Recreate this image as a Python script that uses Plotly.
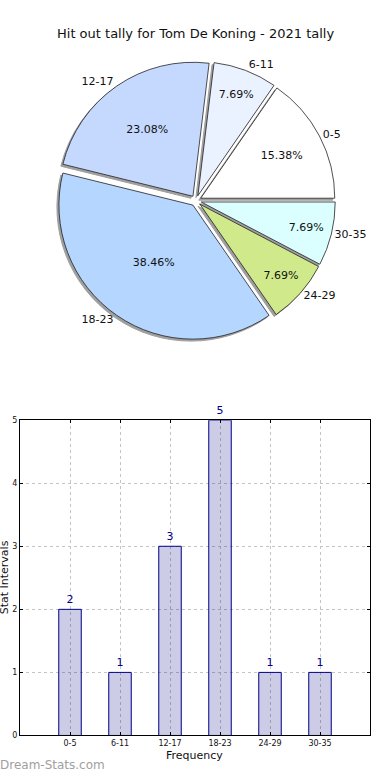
import plotly.graph_objects as go

categories = ["0-5", "6-11", "12-17", "18-23", "24-29", "30-35"]
counts = [2, 1, 3, 5, 1, 1]
pie_colors = ["#FFFFFF", "#EAF2FF", "#C5D9FF", "#B5D6FF", "#D0EA8B", "#DBFFFF"]
title_text = "Hit out tally for Tom De Koning - 2021 tally"

# pie is drawn clockwise from 3 o'clock with reversed order (= counterclockwise from 3 o'clock)
pie_labels = categories[::-1]
pie_values = counts[::-1]
pie_cols = pie_colors[::-1]

W, H = 390, 780
def px(x):
    return x / W
def py(y):
    return 1 - y / H

pull = 0.04
cx, cy, half = 196, 199, 141
dom_x = [px(cx - half), px(cx + half)]
dom_y = [py(cy + half), py(cy - half)]
sh = 2
shadow_x = [px(cx - half - sh), px(cx + half - sh)]
shadow_y = [py(cy + half + sh), py(cy - half + sh)]

common = dict(labels=pie_labels, values=pie_values, sort=False, direction="clockwise",
              rotation=90, pull=pull, showlegend=False)

fig = go.Figure()

# shadow
fig.add_trace(go.Pie(
    **common, textinfo="none", hoverinfo="skip",
    marker=dict(colors=["#888888"] * 6, line=dict(color="#888888", width=1)),
    domain=dict(x=shadow_x, y=shadow_y), opacity=0.8,
))
# main pie with percentages
fig.add_trace(go.Pie(
    **common, textinfo="percent", texttemplate="%{percent:.2%}",
    textposition="inside", insidetextorientation="horizontal",
    textfont=dict(family="DejaVu Sans", size=11, color="#111111"),
    marker=dict(colors=pie_cols, line=dict(color="#222222", width=0.8)),
    domain=dict(x=dom_x, y=dom_y),
))
# labels outside
fig.add_trace(go.Pie(
    **common, textinfo="label", textposition="outside",
    textfont=dict(family="DejaVu Sans", size=11, color="#111111"),
    marker=dict(colors=["rgba(0,0,0,0)"] * 6, line=dict(width=0)),
    domain=dict(x=dom_x, y=dom_y), hoverinfo="skip",
))

# bar chart
fig.add_trace(go.Bar(
    x=categories, y=counts, width=0.45,
    marker=dict(color="rgba(0,0,128,0.2)", line=dict(color="#00008B", width=1)),
    text=[str(c) for c in counts], textposition="outside",
    textfont=dict(family="DejaVu Sans", size=11, color="#00008B"),
    cliponaxis=False, showlegend=False, xaxis="x", yaxis="y",
))

axis_common = dict(showline=True, mirror="ticks", linecolor="black", linewidth=1,
                   showgrid=True, gridcolor="#C4C4C4", griddash="dot", gridwidth=1,
                   ticks="inside", ticklen=3, tickcolor="black",
                   tickfont=dict(size=8, color="#111111"),
                   zeroline=False, fixedrange=True)

fig.update_layout(
    width=W, height=H, margin=dict(l=0, r=0, t=0, b=0),
    paper_bgcolor="white", plot_bgcolor="white",
    font=dict(family="DejaVu Sans", color="#111111"),
    xaxis=dict(domain=[px(20), px(370)], range=[-1, 6], anchor="y", **axis_common),
    yaxis=dict(domain=[py(740), py(421)], range=[0, 5], anchor="x",
               tickvals=[0, 1, 2, 3, 4, 5], **axis_common),
    annotations=[
        dict(text=title_text, x=0.5, y=py(30), xref="paper", yref="paper",
             showarrow=False, font=dict(size=13, color="#111111"),
             xanchor="center", yanchor="middle"),
        dict(text="Stat Intervals", x=0, y=py(580), xref="paper", yref="paper",
             showarrow=False, textangle=-90, font=dict(size=11, color="#111111"),
             xanchor="center", yanchor="middle", xshift=4),
        dict(text="Frequency", x=px(194), y=py(760), xref="paper", yref="paper",
             showarrow=False, font=dict(size=11, color="#111111"),
             xanchor="center", yanchor="middle"),
        dict(text="Dream-Stats.com", x=0, y=py(770), xref="paper", yref="paper",
             showarrow=False, font=dict(size=12, color="#A0A0A0"),
             xanchor="left", yanchor="middle", xshift=-2),
    ],
)

post = (
    "document.documentElement.style.margin='0';"
    "document.documentElement.style.overflow='hidden';"
    "document.body.style.margin='0';"
    "document.body.style.overflow='hidden';"
    "var d=document.getElementById('{plot_id}');"
    "if(d&&d.parentElement){d.parentElement.style.height='780px';"
    "d.parentElement.style.overflow='hidden';}"
)

fig.write_html("out.html", config={"displayModeBar": False}, post_script=post)
